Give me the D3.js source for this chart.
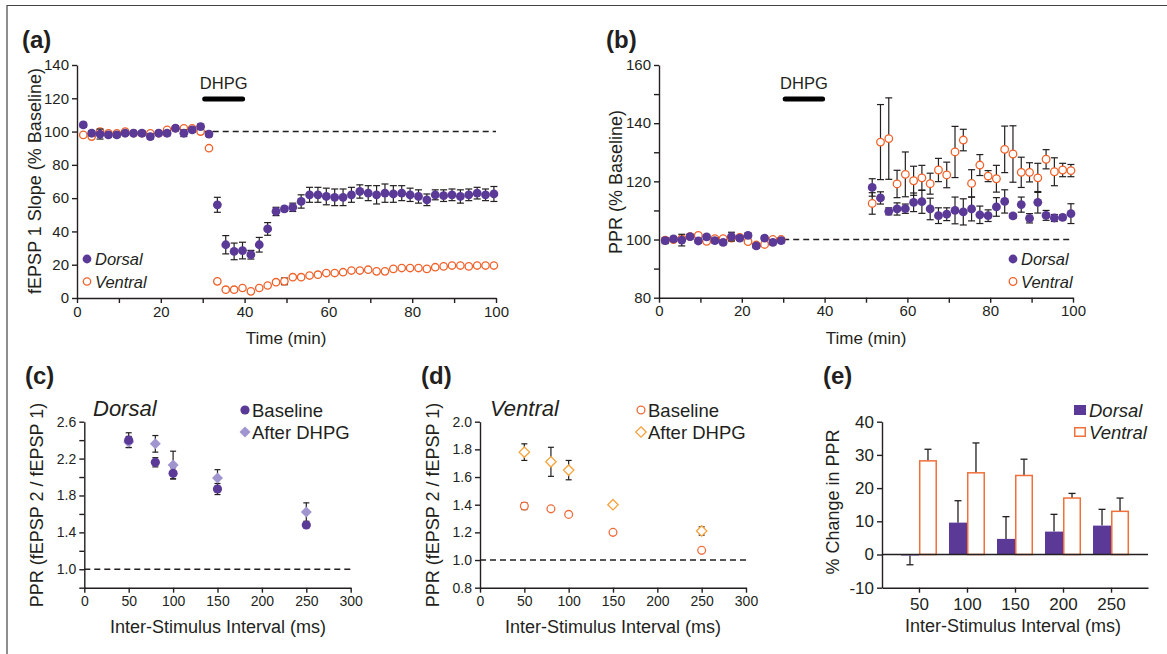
<!DOCTYPE html>
<html>
<head>
<meta charset="utf-8">
<style>
  body { margin: 0; background: #fff; }
  svg text { font-family: "Liberation Sans", Arial, sans-serif; fill: #231f20; }
</style>
</head>
<body>
<div id="chart"></div>
<script src="https://d3js.org/d3.v7.min.js"></script>
<script>

// ---------- data ----------
// (a) fEPSP slope over time
var timeA = [1.5, 3.5, 5.5, 7.5, 9.5, 11.5, 13.5, 15.5, 17.5, 19.5, 21.5, 23.5, 25.5, 27.5, 29.5, 31.5,
             33.5, 35.5, 37.5, 39.5, 41.5, 43.5, 45.5, 47.5, 49.5, 51.5, 53.5, 55.5, 57.5, 59.5, 61.5, 63.5, 65.5,
             67.5, 69.5, 71.5, 73.5, 75.5, 77.5, 79.5, 81.5, 83.5, 85.5, 87.5, 89.5, 91.5, 93.5, 95.5, 97.5, 99.5];
var dorsalA = [104, 99, 98.5, 98, 98, 99, 99, 99, 97, 99, 99, 102, 99, 101, 103, 98.5,
               56, 32, 28, 28.5, 26, 32, 41.5, 52, 53.5, 54.5, 58, 62, 62, 61, 60.5, 60.5, 62,
               64, 63, 62, 63, 62.5, 63, 62, 61, 59, 62, 61.5, 62, 61, 62, 63, 62, 62.5];
var dorsalAErr = [1.5, 1.5, 3, 1.5, 1.5, 1.2, 1.2, 1.5, 1.5, 1.2, 1.5, 1.5, 2, 1.5, 1.5, 1.5,
                  4.5, 5.5, 5, 5, 2.6, 4.4, 3.8, 2.5, 1.5, 2.5, 4, 4.5, 4.5, 5, 5, 5, 4.5,
                  4, 4.5, 5.5, 5.5, 5, 4.5, 4, 4, 3.5, 3, 3.5, 3.5, 4, 3.5, 3.5, 3.5, 4.5];
var ventralA = [98, 97, 100, 99, 99, 100, 99, 99, 99, 99, 101, 102, 102, 102, 100, 90,
                10, 5, 5, 6, 4, 6, 7.5, 9.5, 10, 12.5, 12.5, 13.5, 14, 15, 15, 15.5, 16.5,
                16.5, 17, 16, 16, 17.5, 18, 18, 18, 17.5, 18.5, 19, 19.5, 19.5, 19, 19.5, 19.5, 19.5];
var ventralAErr = [0.6, 0.6, 0.6, 0.6, 0.6, 0.6, 0.6, 0.6, 0.6, 0.6, 0.6, 0.6, 0.6, 0.6, 0.6, 0.6,
                   1, 0.6, 0.6, 0.6, 0.6, 0.6, 0.6, 0.6, 2, 0.6, 0.6, 0.6, 0.6, 0.6, 0.6, 0.6, 0.6,
                   0.6, 0.6, 0.6, 0.6, 0.6, 0.6, 0.6, 0.6, 0.6, 0.6, 0.6, 0.6, 0.6, 0.6, 0.6, 0.6, 0.6];

// (b) paired-pulse ratio over time
var timeB = [1.5, 3.5, 5.5, 7.5, 9.5, 11.5, 13.5, 15.5, 17.5, 19.5, 21.5, 23.5, 25.5, 27.5, 29.5,
             51.5, 53.5, 55.5, 57.5, 59.5, 61.5, 63.5, 65.5, 67.5, 69.5, 71.5, 73.5, 75.5, 77.5, 79.5,
             81.5, 83.5, 85.5, 87.5, 89.5, 91.5, 93.5, 95.5, 97.5, 99.5];
var dorsalB = [99.6, 100.2, 99.8, 101, 99.5, 100.9, 99.6, 99, 101, 100.5, 101.4, 97.8, 100.5, 99, 99.6,
               117.9, 114.3, 109.7, 110.5, 110.6, 112.8, 113, 110.5, 108.2, 108.7, 110, 109.5, 110.5, 108.5, 108.2,
               111.2, 113.1, 108.1, 112, 107.3, 112.8, 108.3, 107.4, 107.6, 108.9];
var dorsalBErr = [1, 0.8, 2, 0.8, 0.8, 0.8, 0.8, 0.8, 1.5, 0.8, 0.8, 0.8, 0.8, 0.8, 0.8,
                  3, 2.1, 1.2, 2.1, 1.6, 3.2, 4, 3.7, 2.7, 2.2, 4.6, 4.5, 4.1, 3, 2,
                  3.2, 4, 0.8, 2.6, 1.6, 3.7, 1.7, 1.2, 0.8, 3.4];
var ventralB = [99.8, 100, 100.3, 101, 101.4, 99.4, 100.3, 100.3, 100.5, 100.7, 99.3, 98.1, 98.3, 100, 100,
                112.4, 133.5, 134.7, 119.1, 122.4, 120.2, 121.2, 119.2, 123.9, 122.2, 130.1, 134.2, 119.3, 125.6, 121.8,
                120.9, 131, 129.4, 123.1, 123.1, 121.2, 127.6, 123.3, 123.9, 123.7];
var ventralBErr = [0.6, 0.6, 0.6, 0.6, 0.6, 0.6, 0.6, 0.6, 0.6, 0.6, 0.6, 0.6, 0.6, 0.6, 0.6,
                   3.7, 12.9, 14, 4.7, 7.7, 5, 4.3, 3.6, 4, 4.4, 8.8, 3.7, 4.7, 3.6, 1.9,
                   4.6, 8, 9.7, 5.2, 3.3, 5, 3.3, 4.8, 2.3, 2.1];

// (c), (d) PPR by inter-stimulus interval
var isi = [50, 80, 100, 150, 250];
var dorsalBase = [2.40, 2.16, 2.04, 1.87, 1.48];
var dorsalBaseErr = [0.08, 0.05, 0.06, 0.06, 0.02];
var dorsalAfter = [2.38, 2.36, 2.13, 1.99, 1.62];
var dorsalAfterErr = [0.06, 0.09, 0.15, 0.09, 0.10];
var ventralBase = [1.39, 1.37, 1.33, 1.20, 1.07];
var ventralBaseErr = [0.025, 0.01, 0.01, 0.01, 0.01];
var ventralAfter = [1.78, 1.71, 1.65, 1.40, 1.21];
var ventralAfterErr = [0.06, 0.105, 0.07, 0.01, 0.03];

// (e) % change in PPR
var isiCats = ["50", "100", "150", "200", "250"];
var pctDorsal = [-0.3, 9.6, 4.7, 6.9, 8.7];
var pctDorsalErr = [2.8, 6.6, 6.7, 5.2, 4.9];
var pctVentral = [28.2, 24.6, 23.8, 17.0, 13.0];
var pctVentralErr = [3.5, 9.0, 4.9, 1.4, 4.0];

// ---------- styles ----------
var ink = "#231f20";
var purple = "#5b3a97", orange = "#f0622a", lavender = "#a195cf",
    orangeD = "#ee6b3a", gold = "#f7a23b", orangeBar = "#f0703a";

var svg = d3.select("#chart").append("svg")
    .attr("width", 1167).attr("height", 654);

// frame (top and left edge)
svg.append("path").attr("d", "M7,654V5.5H1167")
    .attr("fill", "none").attr("stroke", "#444").attr("stroke-width", 1.2);

function styleAxis(g, size) {
  g.selectAll("path, line").attr("stroke", ink).attr("stroke-width", 1.4);
  g.selectAll("text").attr("font-size", size).attr("fill", ink)
    .attr("font-family", '"Liberation Sans", Arial, sans-serif');
}

function yTitle(text, cx, cy, size) {
  svg.append("text").attr("transform", "translate(" + cx + "," + cy + ") rotate(-90)")
    .attr("text-anchor", "middle").attr("dy", "0.35em")
    .attr("font-size", size).text(text);
}
function xTitle(text, cx, cy, size) {
  svg.append("text").attr("x", cx).attr("y", cy)
    .attr("text-anchor", "middle").attr("dy", "0.35em")
    .attr("font-size", size).text(text);
}
function panelLabel(text, x, y) {
  svg.append("text").attr("x", x).attr("y", y)
    .attr("font-size", 24).attr("font-weight", "bold").text(text);
}

function errBars(xs, ys, es, xs_, ys_, cap) {
  var data = xs.map(function(x, i) { return {x: x, y: ys[i], e: es[i]}; });
  var g = svg.append("g").attr("stroke", ink).attr("stroke-width", 1.2);
  g.selectAll("line.v").data(data).enter().append("line")
    .attr("x1", function(d) { return xs_(d.x); }).attr("x2", function(d) { return xs_(d.x); })
    .attr("y1", function(d) { return ys_(d.y - d.e); }).attr("y2", function(d) { return ys_(d.y + d.e); });
  [-1, 1].forEach(function(s) {
    g.selectAll("line.c" + (s + 1)).data(data).enter().append("line")
      .attr("x1", function(d) { return xs_(d.x) - cap; }).attr("x2", function(d) { return xs_(d.x) + cap; })
      .attr("y1", function(d) { return ys_(d.y + s * d.e); }).attr("y2", function(d) { return ys_(d.y + s * d.e); });
  });
}

function dots(xs, ys, xs_, ys_, r, fill, stroke) {
  var data = xs.map(function(x, i) { return {x: x, y: ys[i]}; });
  svg.append("g").selectAll("circle").data(data).enter().append("circle")
    .attr("cx", function(d) { return xs_(d.x); }).attr("cy", function(d) { return ys_(d.y); })
    .attr("r", r).attr("fill", fill)
    .attr("stroke", stroke || "none").attr("stroke-width", 1.3);
}

function diamondPath(s) { return "M0," + (-s) + "L" + s + ",0L0," + s + "L" + (-s) + ",0Z"; }

function diamonds(xs, ys, xs_, ys_, s, fill, stroke) {
  var data = xs.map(function(x, i) { return {x: x, y: ys[i]}; });
  svg.append("g").selectAll("path").data(data).enter().append("path")
    .attr("transform", function(d) { return "translate(" + xs_(d.x) + "," + ys_(d.y) + ")"; })
    .attr("d", diamondPath(s)).attr("fill", fill)
    .attr("stroke", stroke || "none").attr("stroke-width", 1.3);
}

function dashed(x1, x2, y) {
  svg.append("line").attr("x1", x1).attr("x2", x2).attr("y1", y).attr("y2", y)
    .attr("stroke", ink).attr("stroke-width", 1.4).attr("stroke-dasharray", "6,4");
}

function dhpgBar(xs_, y) {
  svg.append("line").attr("x1", xs_(30) + 2).attr("x2", xs_(40) - 2).attr("y1", y).attr("y2", y)
    .attr("stroke", "#000").attr("stroke-width", 5).attr("stroke-linecap", "round");
  svg.append("text").attr("x", xs_(35)).attr("y", y - 10)
    .attr("text-anchor", "middle").attr("font-size", 16.5).text("DHPG");
}

// ---------- (a) ----------
var xa = d3.scaleLinear().domain([0, 100]).range([77, 496]);
var ya = d3.scaleLinear().domain([0, 140]).range([298, 65]);

svg.append("g").attr("transform", "translate(0," + ya(0) + ")")
  .call(d3.axisBottom(xa).tickValues(d3.range(0, 101, 10))
    .tickFormat(function(d) { return d % 20 === 0 ? d : ""; })
    .tickSize(5).tickSizeOuter(0))
  .call(styleAxis, 15);
svg.append("g").attr("transform", "translate(" + xa(0) + ",0)")
  .call(d3.axisLeft(ya).tickValues(d3.range(0, 141, 20)).tickSize(5).tickSizeOuter(0).tickPadding(3))
  .call(styleAxis, 15);

dashed(xa(30), xa(100), ya(100));
errBars(timeA, ventralA, ventralAErr, xa, ya, 3.5);
dots(timeA, ventralA, xa, ya, 3.7, "#fff", orange);
errBars(timeA, dorsalA, dorsalAErr, xa, ya, 3.5);
dots(timeA, dorsalA, xa, ya, 4.4, purple);
dhpgBar(xa, 99);

panelLabel("(a)", 22, 48);
yTitle("fEPSP 1 Slope (% Baseline)", 35, 181, 18);
xTitle("Time (min)", 286, 338, 17);

svg.append("circle").attr("cx", 87).attr("cy", 259).attr("r", 4.4).attr("fill", purple);
svg.append("text").attr("x", 95).attr("y", 265).attr("font-size", 16.5).attr("font-style", "italic").text("Dorsal");
svg.append("circle").attr("cx", 87).attr("cy", 281.5).attr("r", 3.7).attr("fill", "#fff").attr("stroke", orange).attr("stroke-width", 1.3);
svg.append("text").attr("x", 95).attr("y", 288).attr("font-size", 16.5).attr("font-style", "italic").text("Ventral");

// ---------- (b) ----------
var xb = d3.scaleLinear().domain([0, 100]).range([659, 1073]);
var yb = d3.scaleLinear().domain([80, 160]).range([297.7, 65]);

svg.append("g").attr("transform", "translate(0," + yb(80) + ")")
  .call(d3.axisBottom(xb).tickValues(d3.range(0, 101, 10))
    .tickFormat(function(d) { return d % 20 === 0 ? d : ""; })
    .tickSize(5).tickSizeOuter(0))
  .call(styleAxis, 15);
svg.append("g").attr("transform", "translate(" + xb(0) + ",0)")
  .call(d3.axisLeft(yb).tickValues(d3.range(80, 161, 10))
    .tickFormat(function(d) { return d % 20 === 0 ? d : ""; })
    .tickSize(5).tickSizeOuter(0).tickPadding(3))
  .call(styleAxis, 15);

dashed(xb(30), xb(100), yb(100));
errBars(timeB, ventralB, ventralBErr, xb, yb, 3.5);
dots(timeB, ventralB, xb, yb, 3.8, "#fff", orange);
errBars(timeB, dorsalB, dorsalBErr, xb, yb, 3.5);
dots(timeB, dorsalB, xb, yb, 4.4, purple);
dhpgBar(xb, 99);

panelLabel("(b)", 606, 48);
yTitle("PPR (% Baseline)", 616, 182, 18);
xTitle("Time (min)", 866, 338, 17);

svg.append("circle").attr("cx", 1013).attr("cy", 259).attr("r", 4.4).attr("fill", purple);
svg.append("text").attr("x", 1021).attr("y", 265).attr("font-size", 16.5).attr("font-style", "italic").text("Dorsal");
svg.append("circle").attr("cx", 1013).attr("cy", 281.5).attr("r", 3.8).attr("fill", "#fff").attr("stroke", orange).attr("stroke-width", 1.3);
svg.append("text").attr("x", 1021).attr("y", 288).attr("font-size", 16.5).attr("font-style", "italic").text("Ventral");

// ---------- (c) ----------
var xc = d3.scaleLinear().domain([0, 300]).range([84.3, 350.7]);
var yc = d3.scaleLinear().domain([0.8, 2.6]).range([587.7, 421.7]);

svg.append("g").attr("transform", "translate(0," + yc(0.8) + ")")
  .call(d3.axisBottom(xc).tickValues(d3.range(0, 301, 50)).tickSize(5).tickSizeOuter(0))
  .call(styleAxis, 14);
svg.append("g").attr("transform", "translate(" + xc(0) + ",0)")
  .call(d3.axisLeft(yc).tickValues([0.8, 1.0, 1.2, 1.4, 1.6, 1.8, 2.0, 2.2, 2.4, 2.6])
    .tickFormat(function(d) { return [1.0, 1.4, 1.8, 2.2, 2.6].indexOf(d) >= 0 ? d.toFixed(1) : ""; })
    .tickSize(5).tickSizeOuter(0).tickPadding(3))
  .call(styleAxis, 14);

dashed(xc(0), xc(300), yc(1.0));
errBars(isi, dorsalAfter, dorsalAfterErr, xc, yc, 3);
errBars(isi, dorsalBase, dorsalBaseErr, xc, yc, 3);
diamonds(isi, dorsalAfter, xc, yc, 5.5, lavender);
dots(isi, dorsalBase, xc, yc, 4.6, purple);

panelLabel("(c)", 25, 384);
svg.append("text").attr("x", 93).attr("y", 416).attr("font-size", 22).attr("font-style", "italic").text("Dorsal");
yTitle("PPR (fEPSP 2 / fEPSP 1)", 37, 505, 18);
xTitle("Inter-Stimulus Interval (ms)", 218, 627, 18);

svg.append("circle").attr("cx", 245).attr("cy", 410).attr("r", 4.6).attr("fill", purple);
svg.append("text").attr("x", 252).attr("y", 416.5).attr("font-size", 18.5).text("Baseline");
svg.append("path").attr("transform", "translate(245,432)").attr("d", diamondPath(5.5)).attr("fill", lavender);
svg.append("text").attr("x", 252).attr("y", 438.5).attr("font-size", 18.5).text("After DHPG");

// ---------- (d) ----------
var xd = d3.scaleLinear().domain([0, 300]).range([480, 746]);
var yd = d3.scaleLinear().domain([0.8, 2.0]).range([587.7, 421.7]);

svg.append("g").attr("transform", "translate(0," + yd(0.8) + ")")
  .call(d3.axisBottom(xd).tickValues(d3.range(0, 301, 50)).tickSize(5).tickSizeOuter(0))
  .call(styleAxis, 14);
svg.append("g").attr("transform", "translate(" + xd(0) + ",0)")
  .call(d3.axisLeft(yd).tickValues([0.8, 1.0, 1.2, 1.4, 1.6, 1.8, 2.0])
    .tickFormat(d3.format(".1f")).tickSize(5).tickSizeOuter(0).tickPadding(3))
  .call(styleAxis, 14);

dashed(xd(0), xd(300), yd(1.0));
errBars(isi, ventralAfter, ventralAfterErr, xd, yd, 3);
errBars(isi, ventralBase, ventralBaseErr, xd, yd, 3);
diamonds(isi, ventralAfter, xd, yd, 5.2, "#fff", gold);
dots(isi, ventralBase, xd, yd, 3.9, "#fff", orangeD);

panelLabel("(d)", 421, 384);
svg.append("text").attr("x", 490).attr("y", 416).attr("font-size", 22).attr("font-style", "italic").text("Ventral");
yTitle("PPR (fEPSP 2 / fEPSP 1)", 433, 505, 18);
xTitle("Inter-Stimulus Interval (ms)", 613, 627, 18);

svg.append("circle").attr("cx", 641).attr("cy", 410).attr("r", 3.9).attr("fill", "#fff").attr("stroke", orangeD).attr("stroke-width", 1.3);
svg.append("text").attr("x", 648).attr("y", 416.5).attr("font-size", 18.5).text("Baseline");
svg.append("path").attr("transform", "translate(641,432)").attr("d", diamondPath(5.2)).attr("fill", "#fff").attr("stroke", gold).attr("stroke-width", 1.3);
svg.append("text").attr("x", 648).attr("y", 438.5).attr("font-size", 18.5).text("After DHPG");

// ---------- (e) ----------
var xe = d3.scalePoint().domain(isiCats).range([882, 1148]).padding(0.77);
var ye = d3.scaleLinear().domain([-10, 40]).range([587.7, 421.7]);
var barW = 18;

svg.append("g").attr("transform", "translate(0," + ye(-10) + ")")
  .call(d3.axisBottom(xe).tickSize(5).tickSizeOuter(0).tickPadding(5))
  .call(styleAxis, 17);
svg.append("g").attr("transform", "translate(882,0)")
  .call(d3.axisLeft(ye).tickValues(d3.range(-10, 41, 10))
    .tickFormat(function(d) { return String(d); })
    .tickSize(5).tickSizeOuter(0).tickPadding(3))
  .call(styleAxis, 17);

var barsE = isiCats.map(function(c, i) {
  return {c: c, d: pctDorsal[i], de: pctDorsalErr[i], v: pctVentral[i], ve: pctVentralErr[i]};
});

// error bars (one-sided, away from zero)
var eg = svg.append("g").attr("stroke", ink).attr("stroke-width", 1.3);
barsE.forEach(function(b) {
  [[b.d, b.de, -barW / 2], [b.v, b.ve, barW / 2]].forEach(function(p) {
    var cx = xe(b.c) + p[2];
    var end = p[0] + (p[0] < 0 ? -p[1] : p[1]);
    eg.append("line").attr("x1", cx).attr("x2", cx).attr("y1", ye(p[0])).attr("y2", ye(end));
    eg.append("line").attr("x1", cx - 3.5).attr("x2", cx + 3.5).attr("y1", ye(end)).attr("y2", ye(end));
  });
});

svg.append("g").selectAll("rect").data(barsE).enter().append("rect")
  .attr("x", function(b) { return xe(b.c) - barW; })
  .attr("y", function(b) { return ye(Math.max(0, b.d)); })
  .attr("width", barW)
  .attr("height", function(b) { return Math.abs(ye(b.d) - ye(0)); })
  .attr("fill", purple);
svg.append("g").selectAll("rect").data(barsE).enter().append("rect")
  .attr("x", function(b) { return xe(b.c) + 0.75; })
  .attr("y", function(b) { return ye(b.v); })
  .attr("width", barW - 1.5)
  .attr("height", function(b) { return ye(0) - ye(b.v); })
  .attr("fill", "#fff").attr("stroke", orangeBar).attr("stroke-width", 1.5);

svg.append("line").attr("x1", 882).attr("x2", 1148).attr("y1", ye(0)).attr("y2", ye(0))
  .attr("stroke", ink).attr("stroke-width", 1.6);

panelLabel("(e)", 823, 384);
yTitle("% Change in PPR", 833, 502, 18);
xTitle("Inter-Stimulus Interval (ms)", 1013, 626, 18);

svg.append("rect").attr("x", 1074).attr("y", 405).attr("width", 12).attr("height", 10).attr("fill", purple);
svg.append("text").attr("x", 1089).attr("y", 417).attr("font-size", 18.5).attr("font-style", "italic").text("Dorsal");
svg.append("rect").attr("x", 1074.75).attr("y", 427.75).attr("width", 10.5).attr("height", 8.5)
  .attr("fill", "#fff").attr("stroke", orangeBar).attr("stroke-width", 1.5);
svg.append("text").attr("x", 1089).attr("y", 439).attr("font-size", 18.5).attr("font-style", "italic").text("Ventral");

</script>
</body>
</html>
